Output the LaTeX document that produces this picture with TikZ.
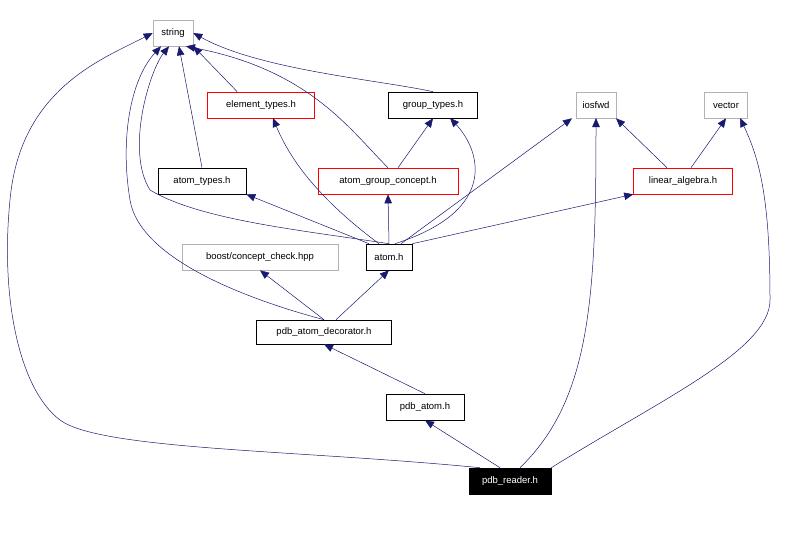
\documentclass[tikz,border=0pt]{standalone}
\usepackage{fontspec}
\setmainfont{Liberation Sans}
\usetikzlibrary{arrows.meta}
\definecolor{edge}{RGB}{25,25,112}
\begin{document}
\begin{tikzpicture}[x=1pt,y=-1pt,
  box/.style={draw=black,fill=white,inner sep=0pt,minimum height=26pt,font=\fontsize{9.5}{11}\selectfont,line width=0.6pt},
  gbox/.style={box,draw=gray!60},
  rbox/.style={box,draw=red},
  e/.style={draw=edge,line width=0.5pt,-{Triangle[length=9pt,width=7.5pt]}}]
\useasboundingbox (0,0) rectangle (790,544);
\node[gbox,minimum width=40pt] (str) at (173,33) {string};
\node[rbox,minimum width=107pt] (el) at (261,105) {element\_types.h};
\node[box,minimum width=89pt] (gt) at (433,105) {group\_types.h};
\node[gbox,minimum width=40pt] (ios) at (596,105) {iosfwd};
\node[gbox,minimum width=43pt] (vec) at (726,105) {vector};
\node[box,minimum width=88pt] (at) at (202,181) {atom\_types.h};
\node[rbox,minimum width=140pt] (agc) at (388,181) {atom\_group\_concept.h};
\node[rbox,minimum width=99pt] (la) at (683,181) {linear\_algebra.h};
\node[gbox,minimum width=156pt] (bst) at (260,257) {boost/concept\_check.hpp};
\node[box,minimum width=46pt] (atom) at (389,257) {atom.h};
\node[box,minimum width=135pt,minimum height=24pt] (pad) at (324,332) {pdb\_atom\_decorator.h};
\node[box,minimum width=78pt] (pa) at (425,407) {pdb\_atom.h};
\node[box,fill=black,text=white,minimum width=82pt] (pr) at (510,481) {pdb\_reader.h};

\draw[e] (el.north west) ++(30,0) -- (str.south east);
\draw[e] (gt.north) .. controls (380,80) and (260,70) .. (str.east);
\draw[e] (at.north) -- ([xshift=6pt]str.south);
\draw[e] (agc.north) .. controls (350,130) and (310,70) .. ([xshift=13pt]str.south);
\draw[e] ([xshift=10pt]agc.north) -- (gt.south);
\draw[e] (atom.north) .. controls (300,230) and (200,220) .. (150,190) .. controls (125,150) and (150,70) .. ([xshift=-4pt]str.south);
\draw[e] ([xshift=-10pt]atom.north) .. controls (320,200) and (290,160) .. (273,118);
\draw[e] ([xshift=-20pt]atom.north) -- (at.south east);
\draw[e] (atom.north) -- (agc.south);
\draw[e] ([xshift=6pt]atom.north) .. controls (500,210) and (480,150) .. (450,118);
\draw[e] ([xshift=12pt]atom.north) -- ([xshift=-24pt]ios.south);
\draw[e] (atom.north east) -- (la.south west);
\draw[e] ([xshift=-16pt]la.north) -- ([xshift=20pt]ios.south);
\draw[e] ([xshift=8pt]la.north) -- (vec.south);
\draw[e] (pad.north) .. controls (250,300) and (140,260) .. (130,200) .. controls (120,140) and (130,80) .. ([xshift=-12pt]str.south);
\draw[e] (pad.north) -- (bst.south);
\draw[e] (pad.north) ++(12,0) -- (atom.south);
\draw[e] (pa.north) -- (pad.south);
\draw[e] ([xshift=-10pt]pr.north) -- (pa.south);
\draw[e] ([xshift=-30pt]pr.north) .. controls (300,450) and (100,450) .. (60,420) .. controls (20,390) and (0,300) .. (10,200) .. controls (20,90) and (100,60) .. (str.west);
\draw[e] ([xshift=10pt]pr.north) .. controls (590,400) and (596,300) .. (596,118);
\draw[e] (pr.north east) .. controls (660,400) and (770,350) .. (770,300) .. controls (770,200) and (760,160) .. (740,118);
\end{tikzpicture}
\end{document}
